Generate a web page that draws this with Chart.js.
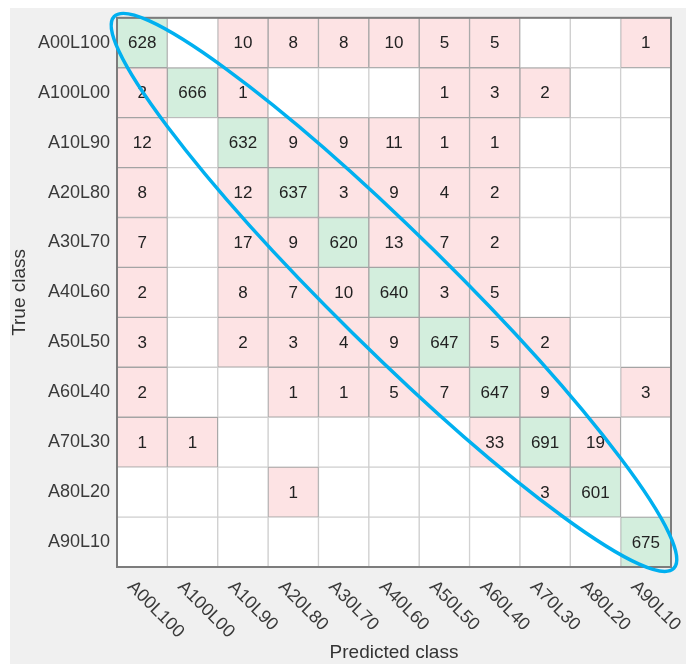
<!DOCTYPE html>
<html><head><meta charset="utf-8">
<script src="https://cdn.jsdelivr.net/npm/chart.js@4.4.0/dist/chart.umd.min.js"></script>
<style>html,body{margin:0;padding:0;background:#fff;}#wrap{width:686px;height:664px;}</style>
</head><body><div id="wrap"><canvas id="c" width="686" height="664"></canvas></div>
<script>
// Class labels (true rows, predicted columns)
const classLabels = ['A00L100','A100L00','A10L90','A20L80','A30L70','A40L60','A50L50','A60L40','A70L30','A80L20','A90L10'];
// Counts per true class (columns = predicted class, same order)
const rowA00L100 = [628,   0,  10,   8,   8,  10,   5,   5,   0,   0,   1];
const rowA100L00 = [  2, 666,   1,   0,   0,   0,   1,   3,   2,   0,   0];
const rowA10L90  = [ 12,   0, 632,   9,   9,  11,   1,   1,   0,   0,   0];
const rowA20L80  = [  8,   0,  12, 637,   3,   9,   4,   2,   0,   0,   0];
const rowA30L70  = [  7,   0,  17,   9, 620,  13,   7,   2,   0,   0,   0];
const rowA40L60  = [  2,   0,   8,   7,  10, 640,   3,   5,   0,   0,   0];
const rowA50L50  = [  3,   0,   2,   3,   4,   9, 647,   5,   2,   0,   0];
const rowA60L40  = [  2,   0,   0,   1,   1,   5,   7, 647,   9,   0,   3];
const rowA70L30  = [  1,   1,   0,   0,   0,   0,   0,  33, 691,  19,   0];
const rowA80L20  = [  0,   0,   0,   1,   0,   0,   0,   0,   3, 601,   0];
const rowA90L10  = [  0,   0,   0,   0,   0,   0,   0,   0,   0,   0, 675];
const confusionRows = [rowA00L100,rowA100L00,rowA10L90,rowA20L80,rowA30L70,rowA40L60,rowA50L50,rowA60L40,rowA70L30,rowA80L20,rowA90L10];

const FONT = '"Liberation Sans", Arial, Helvetica, sans-serif';
const DIAG = '#d3eedd', OFF = '#fde3e4', EMPTY = '#ffffff';

function cellColor(i, j) {
  const v = confusionRows[i][j];
  if (!v) return EMPTY;
  return i === j ? DIAG : OFF;
}
function cellBorder(i, j) {
  return confusionRows[i][j] ? '#a4a4a4' : '#cfcfcf';
}

// one dataset per predicted column; each cell occupies one unit on the x scale
const datasets = classLabels.map((pred, j) => ({
  label: pred,
  data: classLabels.map(() => 1),
  backgroundColor: classLabels.map((_, i) => cellColor(i, j)),
  borderColor: classLabels.map((_, i) => cellBorder(i, j)),
  borderWidth: 1,
  borderSkipped: false,
  barPercentage: 1,
  categoryPercentage: 1
}));

const bgPlugin = {
  id: 'bg',
  beforeDraw(chart) {
    const ctx = chart.ctx;
    ctx.save();
    ctx.fillStyle = '#ffffff';
    ctx.fillRect(0, 0, chart.width, chart.height);
    ctx.fillStyle = '#f0f0f0';
    ctx.fillRect(10, 8, chart.width - 10, chart.height - 8);
    ctx.restore();
  }
};

const cellPlugin = {
  id: 'cells',
  afterDatasetsDraw(chart) {
    const ctx = chart.ctx, xs = chart.scales.x, ys = chart.scales.y, a = chart.chartArea;
    ctx.save();
    // outer box
    ctx.strokeStyle = '#7c7c7c';
    ctx.lineWidth = 2;
    ctx.strokeRect(a.left, a.top, a.right - a.left, a.bottom - a.top);
    // counts
    ctx.fillStyle = '#222222';
    ctx.font = '17px ' + FONT;
    ctx.textAlign = 'center';
    ctx.textBaseline = 'middle';
    confusionRows.forEach((row, i) => {
      row.forEach((v, j) => {
        if (!v) return;
        ctx.fillText(String(v), xs.getPixelForValue(j + 0.5), ys.getPixelForValue(i) + 1);
      });
    });
    // rotated predicted-class labels
    ctx.fillStyle = '#3a3a3a';
    ctx.font = '18px ' + FONT;
    ctx.textAlign = 'left';
    classLabels.forEach((lab, j) => {
      const px = xs.getPixelForValue(j + 0.5);
      ctx.save();
      ctx.translate(px - 12, a.bottom + 17);
      ctx.rotate(Math.PI / 4);
      ctx.fillText(lab, 0, 0);
      ctx.restore();
    });
    ctx.restore();
  },
  afterDraw(chart) {
    const ctx = chart.ctx, a = chart.chartArea;
    const cx = (a.left + a.right) / 2, cy = (a.top + a.bottom) / 2;
    ctx.save();
    ctx.strokeStyle = '#00b0f0';
    ctx.lineWidth = 3.5;
    ctx.beginPath();
    ctx.ellipse(cx, cy, 393, 58, 44.6 * Math.PI / 180, 0, Math.PI * 2);
    ctx.stroke();
    ctx.restore();
  }
};

new Chart(document.getElementById('c'), {
  type: 'bar',
  data: { labels: classLabels, datasets },
  plugins: [bgPlugin, cellPlugin],
  options: {
    indexAxis: 'y',
    responsive: false,
    animation: false,
    devicePixelRatio: 1,
    layout: { padding: { top: 14, right: 15, left: 0, bottom: 0 } },
    plugins: { legend: { display: false }, tooltip: { enabled: false } },
    scales: {
      x: {
        stacked: true, min: 0, max: 11,
        ticks: { display: false },
        grid: { display: false },
        border: { display: false },
        title: { display: true, text: 'Predicted class', color: '#333333', font: { family: FONT, size: 19 }, padding: { top: 0, bottom: 0 } },
        afterFit(s) { s.height = 97; }
      },
      y: {
        stacked: true,
        ticks: { color: '#3a3a3a', font: { family: FONT, size: 18 }, padding: 7 },
        grid: { display: false, drawTicks: false },
        border: { display: false },
        title: { display: true, text: 'True class', color: '#333333', font: { family: FONT, size: 19 }, padding: { top: 8, bottom: 0 } },
        afterFit(s) { s.width = 117; }
      }
    }
  }
});
</script></body></html>
